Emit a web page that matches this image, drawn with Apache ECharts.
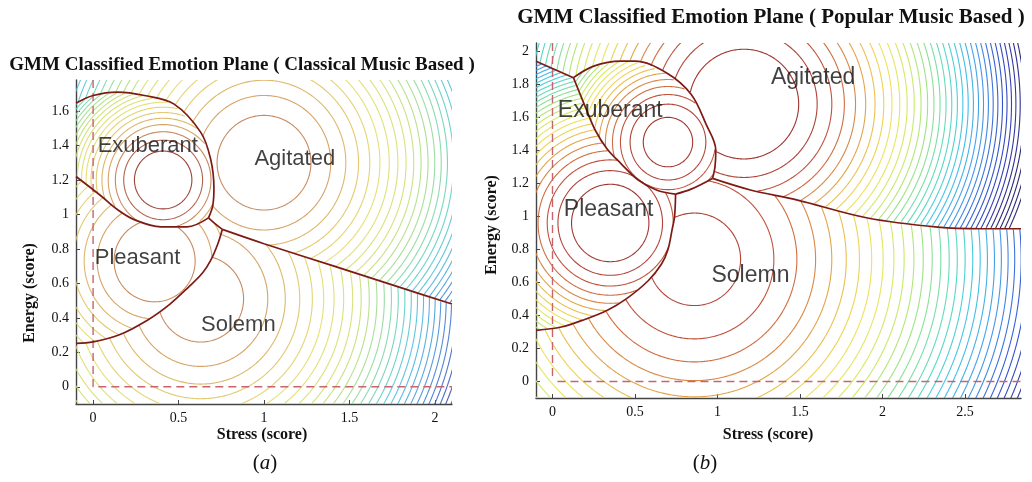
<!DOCTYPE html>
<html><head><meta charset="utf-8">
<script src="https://cdn.jsdelivr.net/npm/echarts@6/dist/echarts.min.js"></script>
<style>html,body{margin:0;padding:0;background:#fff}#c{width:1032px;height:482px}</style>
</head><body><div id="c"></div>
<script>
// ---------------- DATA ----------------
const regionNames = ['Exuberant', 'Agitated', 'Pleasant', 'Solemn'];

// Plot (a) Classical music: GMM components (Exuberant, Agitated, Pleasant, Solemn)
const aCenterX = [0.41, 1.0, 0.36, 0.63];
const aCenterY = [1.2, 1.3, 0.73, 0.51];
const aPrecision = [40, 13, 17.6, 11];
const aPeak = [2.13, -0.02, -0.01, -0.31];
const aLevels = [1,0,-1,-2,-3,-4,-5,-6,-7,-8,-9,-10,-11,-12,-13,-14,-15,-16,-17,-18,-19,-20,-21,-22,-23,-24,-25,-26,-27,-28,-29,-30,-31];
const aBndEA = [[-0.1,1.645],[0.0,1.69],[0.144,1.71],[0.3,1.69],[0.474,1.64],[0.63,1.476],[0.688,1.32],[0.707,1.15],[0.70,1.05],[0.675,0.98]];
const aBndEP = [[-0.1,1.22],[0.047,1.107],[0.14,1.03],[0.24,0.97],[0.397,0.928],[0.55,0.928],[0.675,0.98]];
const aBndPA = [[0.675,0.98],[0.715,0.945],[0.756,0.913]];
const aBndAS = [[0.756,0.913],[1.0,0.83],[1.41,0.70],[1.8,0.575],[2.1,0.48]];
const aBndPS = [[-0.1,0.252],[0.0,0.26],[0.15,0.3],[0.32,0.388],[0.45,0.48],[0.56,0.58],[0.64,0.66],[0.688,0.733],[0.73,0.83],[0.756,0.913]];
const aLabelX = [0.32, 1.18, 0.26, 0.85];
const aLabelY = [1.40, 1.32, 0.75, 0.36];
const aXTicks = [0, 0.5, 1, 1.5, 2];
const aYTicks = [0, 0.2, 0.4, 0.6, 0.8, 1, 1.2, 1.4, 1.6];

// Plot (b) Popular music
const bCenterX = [0.70, 1.16, 0.35, 0.86];
const bCenterY = [1.45, 1.68, 0.96, 0.74];
const bPrecision = [33, 11.5, 22, 6.5];
const bPeak = [0.74, 1.27, 1.21, -0.49];
const bLevels = [0,-1,-2,-3,-4,-5,-6,-7,-8,-9,-10,-11,-12,-13,-14,-15,-16,-17,-18,-19,-20,-21,-22,-23,-24,-25,-26,-27,-28,-29,-30,-31,-32,-33,-34,-35];
const bBndPA = [[-0.1,1.94],[0.127,1.84]];
const bBndEA = [[0.127,1.84],[0.25,1.91],[0.415,1.94],[0.5,1.94],[0.69,1.87],[0.84,1.74],[0.93,1.56],[0.99,1.40],[0.985,1.30],[0.97,1.23]];
const bBndEP = [[0.127,1.84],[0.2,1.66],[0.26,1.52],[0.33,1.41],[0.415,1.32],[0.52,1.22],[0.63,1.16],[0.746,1.135]];
const bBndES = [[0.746,1.135],[0.84,1.165],[0.97,1.23]];
const bBndPS = [[0.746,1.135],[0.74,1.0],[0.725,0.92],[0.70,0.80],[0.66,0.71],[0.58,0.61],[0.447,0.50],[0.33,0.43],[0.18,0.37],[0.053,0.33],[-0.1,0.31]];
const bBndAS = [[0.97,1.23],[1.2,1.16],[1.48,1.10],[1.91,0.99],[2.335,0.935],[2.6,0.925],[2.84,0.925]];
const bLabelX = [0.35, 1.58, 0.34, 1.20];
const bLabelY = [1.64, 1.84, 1.04, 0.64];
const bXTicks = [0, 0.5, 1, 1.5, 2, 2.5];
const bYTicks = [0, 0.2, 0.4, 0.6, 0.8, 1, 1.2, 1.4, 1.6, 1.8, 2];

// ---------------- STYLE ----------------
const cmapA = [[0,'#2a2c80'],[0.08,'#34409c'],[0.18,'#3c64c8'],[0.30,'#4898dc'],[0.40,'#4cbfdc'],[0.48,'#62d0c0'],[0.58,'#98dc90'],[0.68,'#cfe070'],[0.78,'#e4dc68'],[0.85,'#e0c060'],[0.90,'#d4a058'],[0.94,'#c07a4a'],[0.97,'#a8503a'],[1,'#8e3024']];
const cmapB = [[0,'#201c70'],[0.06,'#2a2aa0'],[0.17,'#2a50d0'],[0.28,'#3a90e8'],[0.39,'#38c0e8'],[0.48,'#50d8c0'],[0.57,'#88e08a'],[0.66,'#c8e860'],[0.74,'#eee454'],[0.80,'#ecc848'],[0.85,'#e09a40'],[0.90,'#d06a38'],[0.95,'#b84030'],[1,'#9a2a22']];

function hex(c){return [parseInt(c.slice(1,3),16),parseInt(c.slice(3,5),16),parseInt(c.slice(5,7),16)];}
function cmap(stops,t){
  t=Math.max(0,Math.min(1,t));
  for(let i=1;i<stops.length;i++){
    if(t<=stops[i][0]){
      const t0=stops[i-1][0],t1=stops[i][0],f=(t-t0)/(t1-t0);
      const a=hex(stops[i-1][1]),b=hex(stops[i][1]);
      return 'rgb('+a.map((v,j)=>Math.round(v+(b[j]-v)*f)).join(',')+')';
    }
  }
  return stops[stops.length-1][1];
}
function rev(p){return p.slice().reverse();}
function cat(){return [].concat.apply([],arguments);}
function inPoly(x,y,poly){
  let inside=false;
  for(let i=0,j=poly.length-1;i<poly.length;j=i++){
    const xi=poly[i][0],yi=poly[i][1],xj=poly[j][0],yj=poly[j][1];
    if(((yi>y)!==(yj>y)) && (x < (xj-xi)*(y-yi)/(yj-yi)+xi)) inside=!inside;
  }
  return inside;
}

const polysA = [
  cat(aBndEA, rev(aBndEP), [[-1,1.22],[-1,1.645]]),
  cat([[-1,1.645]], aBndEA, aBndPA, aBndAS, [[3,0.48],[3,3],[-1,3]]),
  cat([[-1,1.22]], aBndEP, aBndPA, rev(aBndPS), [[-1,0.252]]),
  cat([[-1,0.252]], aBndPS, aBndAS, [[3,0.48],[3,-1],[-1,-1]])
];
const polysB = [
  cat(bBndEA, rev(bBndES), rev(bBndEP)),
  cat([[-1,1.94]], bBndPA, bBndEA, bBndAS, [[4,0.925],[4,4],[-1,4]]),
  cat([[-1,1.94]], bBndPA, bBndEP, bBndPS, [[-1,0.31]]),
  cat([[-1,0.31]], rev(bBndPS), bBndES, bBndAS, [[4,0.925],[4,-1],[-1,-1]])
];

function contourSeries(gi, cx, cy, prec, peak, levels, polys, box, stops, hi, lo, width, opacity){
  const data=[];
  for(let k=0;k<cx.length;k++){
    for(const L of levels){
      if(peak[k]>L) data.push([cx[k],cy[k],Math.sqrt((peak[k]-L)/prec[k]),L,k]);
    }
  }
  const m=0.01;
  return {
    type:'custom', xAxisIndex:gi, yAxisIndex:gi, silent:true, clip:true, z:2,
    data:data,
    renderItem:function(params,api){
      const x0=api.value(0),y0=api.value(1),r=api.value(2),L=api.value(3),k=api.value(4);
      const sz=api.size([1,1]);
      const n=Math.max(90,Math.ceil(2*Math.PI*r*Math.max(sz[0],sz[1])/1.2));
      const poly=polys[k];
      const runs=[];let cur=null;let firstOk=false,lastOk=false;
      for(let i=0;i<=n;i++){
        const th=2*Math.PI*i/n;
        const x=x0+r*Math.cos(th),y=y0+r*Math.sin(th);
        const ok=x>=box[0]-m&&x<=box[1]+m&&y>=box[2]-m&&y<=box[3]+m&&inPoly(x,y,poly);
        if(i===0)firstOk=ok; if(i===n)lastOk=ok;
        if(ok){if(!cur){cur=[];runs.push(cur);}cur.push(api.coord([x,y]));}else cur=null;
      }
      if(runs.length>1&&firstOk&&lastOk){const last=runs.pop();runs[0]=last.concat(runs[0]);}
      const color=cmap(stops,(L-lo)/(hi-lo));
      return {type:'group',children:runs.filter(p=>p.length>1).map(p=>({
        type:'polyline',shape:{points:p},silent:true,
        style:{stroke:color,fill:'none',lineWidth:width,opacity:opacity}
      }))};
    }
  };
}

function boundarySeries(gi, lines){
  return lines.map(l=>({type:'line',xAxisIndex:gi,yAxisIndex:gi,data:l,smooth:0.35,symbol:'none',silent:true,clip:true,z:5,
    lineStyle:{color:'#7e1a14',width:1.7}}));
}
function dashSeries(gi,pts){
  return {type:'line',xAxisIndex:gi,yAxisIndex:gi,data:pts,symbol:'none',silent:true,z:4,clip:true,
    lineStyle:{color:'#c8646c',width:1.4,type:[8,5]}};
}
function labelSeries(gi,xs,ys,fs){
  return {type:'scatter',xAxisIndex:gi,yAxisIndex:gi,symbolSize:0,silent:true,z:6,
    data:xs.map((x,i)=>[x,ys[i],regionNames[i]]),
    label:{show:true,position:'inside',formatter:p=>p.data[2],fontFamily:'Liberation Sans',fontSize:fs,color:'#111'}};
}
function axisCfg(gi,min,max,ticks){
  return {type:'value',gridIndex:gi,min:min,max:max,
    axisLine:{show:true,onZero:false,lineStyle:{color:'#444',width:1.4}},
    axisTick:{show:true,inside:true,length:4,customValues:ticks,lineStyle:{color:'#444'}},
    axisLabel:{customValues:ticks,fontFamily:'Liberation Serif',fontSize:14,color:'#111',margin:7},
    splitLine:{show:false}};
}

const boxA=[-0.1,2.1,-0.1,1.78];
const boxB=[-0.1,2.84,-0.1,2.05];

function txt(x,y,text,font,rot){
  return {type:'text',x:x,y:y,rotation:rot||0,silent:true,
    style:{text:text,font:font,fill:'#111',textAlign:'center',textVerticalAlign:'middle',align:'center',verticalAlign:'middle'}};
}
function caption(x,y,letter){
  return {type:'text',x:x,y:y,silent:true,
    style:{text:'{n|(}{i|'+letter+'}{n|)}',align:'center',verticalAlign:'middle',textAlign:'center',textVerticalAlign:'middle',
      rich:{n:{fontFamily:'Liberation Serif',fontSize:21,fill:'#111'},i:{fontFamily:'Liberation Serif',fontStyle:'italic',fontSize:21,fill:'#111'}}}};
}

const chart=echarts.init(document.getElementById('c'),null,{renderer:'canvas'});
chart.setOption({
  animation:false,
  backgroundColor:'#fff',
  grid:[
    {left:76,top:80,width:376,height:324},
    {left:536,top:43,width:485,height:355}
  ],
  xAxis:[axisCfg(0,boxA[0],boxA[1],aXTicks),axisCfg(1,boxB[0],boxB[1],bXTicks)],
  yAxis:[axisCfg(0,boxA[2],boxA[3],aYTicks),axisCfg(1,boxB[2],boxB[3],bYTicks)],
  series:[].concat(
    [contourSeries(0,aCenterX,aCenterY,aPrecision,aPeak,aLevels,polysA,boxA,cmapA,1,-31,1.1,0.9)],
    [contourSeries(1,bCenterX,bCenterY,bPrecision,bPeak,bLevels,polysB,boxB,cmapB,0,-32,1.1,0.95)],
    boundarySeries(0,[aBndEA,aBndEP,aBndPA,aBndAS,aBndPS]),
    boundarySeries(1,[bBndPA,bBndEA,bBndEP,bBndES,bBndPS,bBndAS]),
    [dashSeries(0,[[0,boxA[3]],[0,0],[boxA[1],0]]),
     dashSeries(1,[[0,boxB[3]],[0,0.03]]),
     dashSeries(1,[[0.03,0],[boxB[1],0]])],
    [labelSeries(0,aLabelX,aLabelY,22),labelSeries(1,bLabelX,bLabelY,23)]
  ),
  graphic:[
    txt(242,65,'GMM Classified Emotion Plane ( Classical Music Based )','bold 19px "Liberation Serif"'),
    txt(771,18,'GMM Classified Emotion Plane ( Popular Music Based )','bold 21px "Liberation Serif"'),
    txt(262,435,'Stress (score)','bold 16px "Liberation Serif"'),
    txt(768,435,'Stress (score)','bold 16px "Liberation Serif"'),
    txt(30,293,'Energy (score)','bold 16px "Liberation Serif"',Math.PI/2),
    txt(492,225,'Energy (score)','bold 16px "Liberation Serif"',Math.PI/2),
    caption(265,463,'a'),
    caption(705,463,'b')
  ]
});
</script></body></html>
